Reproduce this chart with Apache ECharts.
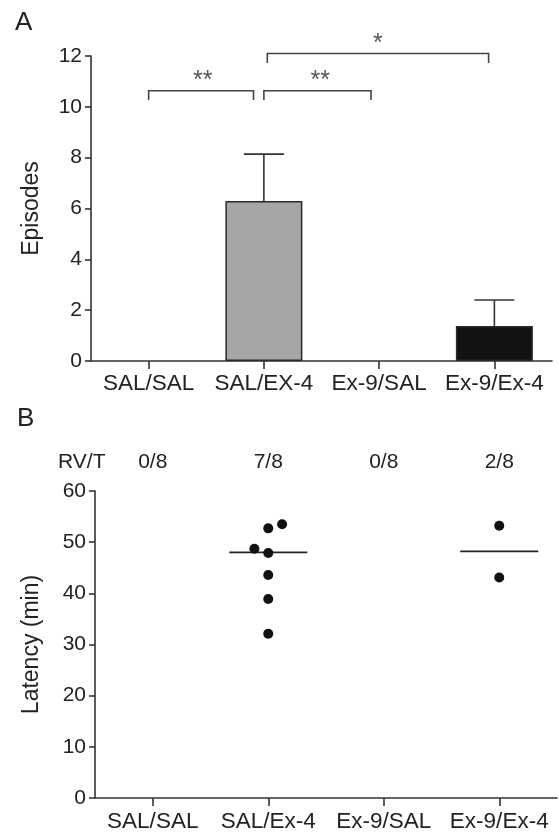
<!DOCTYPE html>
<html>
<head>
<meta charset="utf-8">
<script src="https://cdn.jsdelivr.net/npm/echarts@6/dist/echarts.min.js"></script>
<style>
  html, body { margin: 0; padding: 0; background: #fff; }
  #chart { width: 559px; height: 834px; }
</style>
</head>
<body>
<div id="chart"></div>
<script>
// panel A data
var groupsA = ['SAL/SAL', 'SAL/EX-4', 'Ex-9/SAL', 'Ex-9/Ex-4'];
var episodes = [0, 6.3, 0, 1.38];
var episodesSem = [0, 1.84, 0, 1.02];
var barColors = ['#a6a6a6', '#a6a6a6', '#a6a6a6', '#121212'];
// significance brackets: [from, to, height, leg end]
var brackets = [[0, 0.91, 10.63, 10.27], [1, 1.93, 10.63, 10.27], [1.03, 2.95, 12.1, 11.72]];
var stars = [[0.47, 11.0, '**'], [1.49, 11.0, '**'], [1.99, 12.45, '*']];

// panel B data
var groupsB = ['SAL/SAL', 'SAL/Ex-4', 'Ex-9/SAL', 'Ex-9/Ex-4'];
var rvt = ['0/8', '7/8', '0/8', '2/8'];
var latencySalEx4 = [53.5, 52.7, 48.7, 47.9, 43.6, 38.9, 32.1];
var jitterSalEx4 = [0.12, 0, -0.12, 0, 0, 0, 0];
var latencyEx9Ex4 = [53.2, 43.1];
var medians = [null, 48.0, null, 48.2];

var font = 'Liberation Sans, Arial, sans-serif';
var ink = '#222';
var axisLine = { show: true, onZero: false, lineStyle: { color: '#333', width: 1.6 } };
var tick = function (len) {
  return { show: true, alignWithLabel: true, length: len, lineStyle: { color: '#333', width: 1.6 } };
};

var chart = echarts.init(document.getElementById('chart'));

var errData = [];
episodes.forEach(function (v, i) {
  if (episodesSem[i] > 0) errData.push([i, v, v + episodesSem[i]]);
});

var dotsB = latencySalEx4.map(function (v, i) { return [1 + jitterSalEx4[i], v]; })
  .concat(latencyEx9Ex4.map(function (v) { return [3, v]; }));

var medianData = [];
medians.forEach(function (m, i) { if (m != null) medianData.push([i, m]); });

var option = {
  animation: false,
  textStyle: { fontFamily: font },
  graphic: [
    { type: 'text', left: 15, top: 10, style: { text: 'A', font: '26px ' + font, fill: ink } },
    { type: 'text', left: 17, top: 406, style: { text: 'B', font: '26px ' + font, fill: ink } },
    { type: 'text', left: 58, top: 452, style: { text: 'RV/T', font: '21px ' + font, fill: ink } }
  ],
  grid: [
    { left: 91, top: 56, width: 461, height: 305 },
    { left: 95, top: 491, width: 462, height: 307 }
  ],
  xAxis: [
    {
      gridIndex: 0, type: 'category', data: groupsA,
      axisLine: axisLine, axisTick: tick(8),
      axisLabel: { color: ink, fontSize: 22.5, margin: 11, interval: 0 }
    },
    { gridIndex: 0, type: 'value', min: -0.5, max: 3.5, show: false },
    {
      gridIndex: 1, type: 'category', data: groupsB,
      axisLine: axisLine, axisTick: tick(8),
      axisLabel: { color: ink, fontSize: 22.5, margin: 12, interval: 0 }
    },
    { gridIndex: 1, type: 'value', min: -0.5, max: 3.5, show: false },
    {
      gridIndex: 1, type: 'category', data: rvt, position: 'top',
      axisLine: { show: false }, axisTick: { show: false },
      axisLabel: { color: ink, fontSize: 21, margin: 18, interval: 0 }
    }
  ],
  yAxis: [
    {
      gridIndex: 0, type: 'value', min: 0, max: 12, interval: 2,
      name: 'Episodes', nameLocation: 'middle', nameGap: 48,
      nameTextStyle: { color: ink, fontSize: 23 },
      axisLine: axisLine, axisTick: tick(6),
      axisLabel: { color: ink, fontSize: 21, margin: 9 },
      splitLine: { show: false }
    },
    {
      gridIndex: 1, type: 'value', min: 0, max: 60, interval: 10,
      name: 'Latency (min)', nameLocation: 'middle', nameGap: 52,
      nameTextStyle: { color: ink, fontSize: 23 },
      axisLine: axisLine, axisTick: tick(6),
      axisLabel: { color: ink, fontSize: 21, margin: 9 },
      splitLine: { show: false }
    }
  ],
  series: [
    {
      type: 'bar', xAxisIndex: 0, yAxisIndex: 0, barWidth: 77,
      data: episodes.map(function (v, i) {
        return { value: v, itemStyle: { color: barColors[i], borderColor: '#2a2a2a', borderWidth: v > 0 ? 1.5 : 0 } };
      })
    },
    {
      type: 'custom', xAxisIndex: 0, yAxisIndex: 0, data: errData, z: 5,
      renderItem: function (params, api) {
        var b = api.coord([api.value(0), api.value(1)]);
        var t = api.coord([api.value(0), api.value(2)]);
        var st = { stroke: '#333', lineWidth: 1.6 };
        return { type: 'group', children: [
          { type: 'line', shape: { x1: b[0], y1: b[1], x2: t[0], y2: t[1] }, style: st },
          { type: 'line', shape: { x1: t[0] - 20, y1: t[1], x2: t[0] + 20, y2: t[1] }, style: st }
        ] };
      }
    },
    {
      type: 'custom', xAxisIndex: 1, yAxisIndex: 0, data: brackets, clip: false,
      renderItem: function (params, api) {
        var a = api.coord([api.value(0), api.value(2)]);
        var b = api.coord([api.value(1), api.value(2)]);
        var la = api.coord([api.value(0), api.value(3)]);
        var lb = api.coord([api.value(1), api.value(3)]);
        return {
          type: 'polyline',
          shape: { points: [la, a, b, lb] },
          style: { stroke: '#444', lineWidth: 1.6, fill: null }
        };
      }
    },
    {
      type: 'custom', xAxisIndex: 1, yAxisIndex: 0, data: stars, clip: false,
      renderItem: function (params, api) {
        var p = api.coord([api.value(0), api.value(1)]);
        return {
          type: 'text', x: p[0], y: p[1],
          style: { text: stars[params.dataIndex][2], font: '25px ' + font, fill: '#555', align: 'center', verticalAlign: 'middle' }
        };
      }
    },
    {
      type: 'scatter', xAxisIndex: 3, yAxisIndex: 1, data: dotsB,
      symbolSize: 10, itemStyle: { color: '#111', opacity: 1 }
    },
    {
      type: 'custom', xAxisIndex: 2, yAxisIndex: 1, data: medianData,
      renderItem: function (params, api) {
        var p = api.coord([api.value(0), api.value(1)]);
        return {
          type: 'line', shape: { x1: p[0] - 39, y1: p[1], x2: p[0] + 39, y2: p[1] },
          style: { stroke: '#222', lineWidth: 1.6 }
        };
      }
    }
  ]
};

chart.setOption(option);
</script>
</body>
</html>
